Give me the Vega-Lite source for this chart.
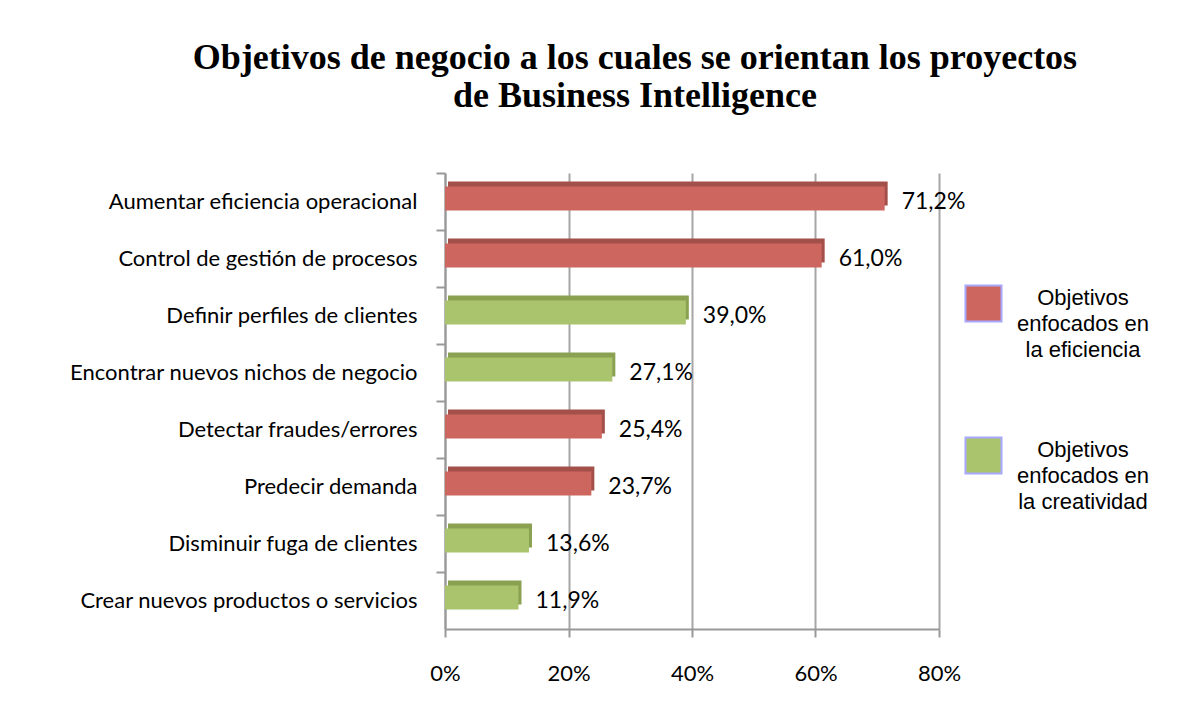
{
  "$schema": "https://vega.github.io/schema/vega-lite/v6.json",
  "width": 494,
  "height": 456,
  "autosize": "none",
  "padding": {"left": 445, "top": 173, "right": 239, "bottom": 86},
  "background": "white",
  "title": {
    "text": ["Objetivos de negocio a los cuales se orientan los proyectos", "de Business Intelligence"],
    "font": "Liberation Serif",
    "fontSize": 36,
    "fontWeight": "bold",
    "color": "#000000",
    "lineHeight": 38,
    "anchor": "middle",
    "frame": "group",
    "dx": -57,
    "offset": 57
  },
  "data": {
    "values": [
      {"objetivo": "Aumentar eficiencia operacional", "valor": 0.712, "tipo": "eficiencia"},
      {"objetivo": "Control de gestión de procesos", "valor": 0.610, "tipo": "eficiencia"},
      {"objetivo": "Definir perfiles de clientes", "valor": 0.390, "tipo": "creatividad"},
      {"objetivo": "Encontrar nuevos nichos de negocio", "valor": 0.271, "tipo": "creatividad"},
      {"objetivo": "Detectar fraudes/errores", "valor": 0.254, "tipo": "eficiencia"},
      {"objetivo": "Predecir demanda", "valor": 0.237, "tipo": "eficiencia"},
      {"objetivo": "Disminuir fuga de clientes", "valor": 0.136, "tipo": "creatividad"},
      {"objetivo": "Crear nuevos productos o servicios", "valor": 0.119, "tipo": "creatividad"}
    ]
  },
  "encoding": {
    "y": {
      "field": "objetivo",
      "type": "nominal",
      "sort": null,
      "title": null,
      "scale": {"paddingInner": 0, "paddingOuter": 0},
      "axis": {
        "labelFont": "Lato",
        "labelFontSize": 22,
        "labelColor": "#000000",
        "labelPadding": 19,
        "tickSize": 9,
        "tickColor": "#999999",
        "tickWidth": 2,
        "domainColor": "#999999",
        "domainWidth": 2,
        "bandPosition": 0,
        "labelLimit": 400
      }
    },
    "x": {
      "field": "valor",
      "type": "quantitative",
      "title": null,
      "scale": {"domain": [0, 0.8], "nice": false},
      "axis": {
        "values": [0, 0.2, 0.4, 0.6, 0.8],
        "format": ".0%",
        "labelFont": "Lato",
        "labelFontSize": 22,
        "labelColor": "#000000",
        "labelPadding": 26,
        "labelFlush": false,
        "tickSize": 8,
        "tickColor": "#999999",
        "tickWidth": 2,
        "domainColor": "#999999",
        "domainWidth": 2,
        "grid": true,
        "gridColor": "#A6A6A6",
        "gridWidth": 2
      }
    }
  },
  "layer": [
    {
      "mark": {"type": "bar", "xOffset": 3, "yOffset": -8, "height": {"band": 0.42}},
      "encoding": {
        "fill": {
          "condition": {"test": "datum.tipo === 'eficiencia'", "value": "#A4504A"},
          "value": "#8AA152"
        }
      }
    },
    {
      "mark": {"type": "bar", "yOffset": -3, "height": {"band": 0.42}},
      "encoding": {
        "color": {
          "field": "tipo",
          "type": "nominal",
          "sort": ["eficiencia", "creatividad"],
          "scale": {"domain": ["eficiencia", "creatividad"], "range": ["#CD665F", "#AAC46E"]},
          "legend": {
            "title": null,
            "orient": "none",
            "legendX": 519,
            "legendY": 111,
            "padding": 0,
            "symbolType": "square",
            "symbolSize": 1300,
            "symbolStrokeColor": "#A8A8FF",
            "symbolStrokeWidth": 2,
            "symbolOpacity": 1,
            "labelExpr": "['Objetivos', 'enfocados en', datum.value == 'eficiencia' ? 'la eficiencia' : 'la creatividad']",
            "labelFont": "Liberation Sans",
            "labelFontSize": 22,
            "labelColor": "#000000",
            "labelAlign": "center",
            "labelOffset": 80,
            "labelLimit": 300,
            "rowPadding": 72,
            "encode": {
              "labels": {"update": {"lineHeight": {"value": 26}, "dy": {"value": -6}}}
            }
          }
        }
      }
    },
    {
      "mark": {"type": "text", "align": "left", "baseline": "middle", "dx": 17, "dy": 0, "font": "Lato", "fontSize": 23, "color": "#000000"},
      "encoding": {
        "text": {"field": "valor", "type": "quantitative", "format": ".1%"}
      }
    }
  ],
  "config": {
    "locale": {"number": {"decimal": ",", "thousands": ".", "grouping": [3], "currency": ["", " €"]}},
    "view": {"stroke": null}
  }
}
